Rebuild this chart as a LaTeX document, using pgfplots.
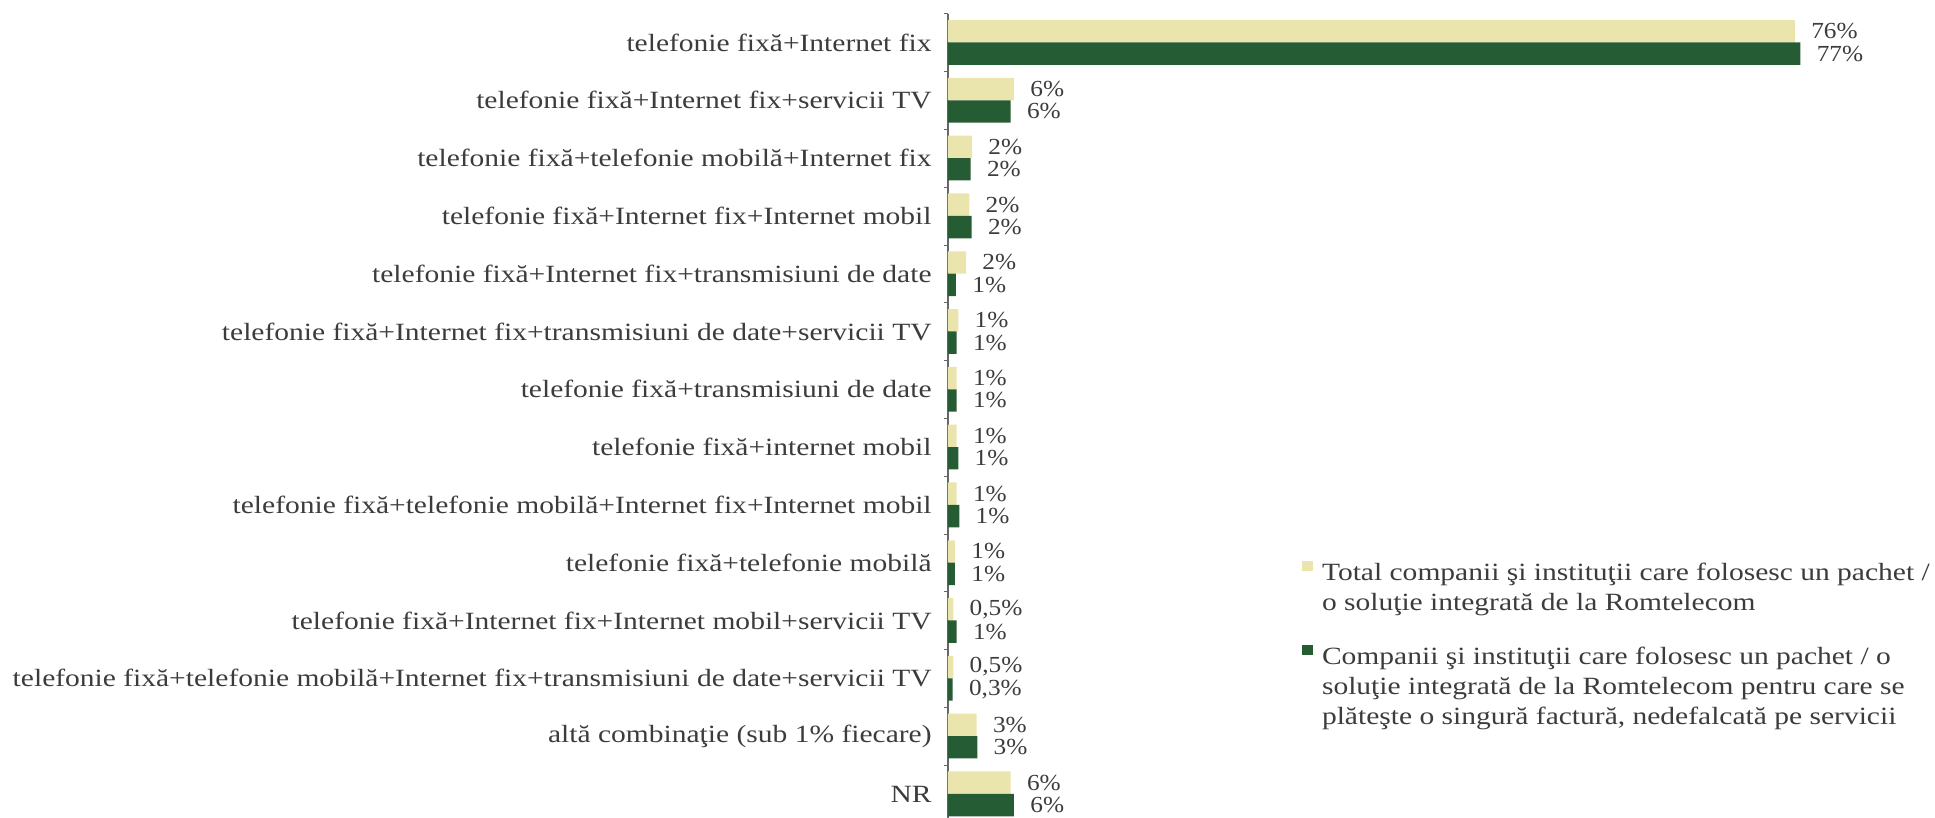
\documentclass[border=0pt]{standalone}
\usepackage{pgfplots}
\pgfplotsset{compat=1.18}
\usepackage{fontspec}
\setmainfont{Liberation Serif}[FakeStretch=1.19]
\newfontfamily\numfont{Liberation Serif}[FakeStretch=1.1]
\definecolor{lightc}{RGB}{234,229,172}
\definecolor{darkc}{RGB}{38,92,52}
\definecolor{txt}{RGB}{60,60,60}
\begin{document}
\begin{tikzpicture}
\begin{axis}[
  at={(0,0)}, anchor=south west,
  scale only axis, width=493.5pt, height=402.2pt,
  xmin=0, xmax=89.16, ymin=-0.417, ymax=13.5,
  axis y line*=left, axis x line=none,
  y axis line style={draw=black!60, line width=0.6pt},
  xbar, bar width=11.2pt,
  ytick={0,...,13},
  yticklabels={NR,
    {altă combinaţie (sub 1\% fiecare)},
    {telefonie fixă+telefonie mobilă+Internet fix+transmisiuni de date+servicii TV},
    {telefonie fixă+Internet fix+Internet mobil+servicii TV},
    {telefonie fixă+telefonie mobilă},
    {telefonie fixă+telefonie mobilă+Internet fix+Internet mobil},
    {telefonie fixă+internet mobil},
    {telefonie fixă+transmisiuni de date},
    {telefonie fixă+Internet fix+transmisiuni de date+servicii TV},
    {telefonie fixă+Internet fix+transmisiuni de date},
    {telefonie fixă+Internet fix+Internet mobil},
    {telefonie fixă+telefonie mobilă+Internet fix},
    {telefonie fixă+Internet fix+servicii TV},
    {telefonie fixă+Internet fix}},
  major tick length=0pt,
  minor ytick={0.5,1.5,...,13.5},
  minor tick length=2pt, tick align=outside,
  minor tick style={black!60},
  yticklabel style={font=\fontsize{12.4}{12.5}\selectfont, text=txt, inner sep=0pt, xshift=-8pt},
  clip=false,
  point meta=explicit symbolic,
  nodes near coords,
  nodes near coords style={font=\numfont\fontsize{11.5}{11.5}\selectfont, text=txt, anchor=west, inner sep=0pt, xshift=8pt},
  legend style={at={(0.3587,0.321)}, anchor=north west, draw=none, fill=none,
    inner sep=0pt, outer sep=0pt, row sep=30pt, column sep=4.5pt,
    font=\fontsize{12.4}{15}\selectfont, text=txt,
    nodes={inner sep=0pt}},
  legend cell align=left,
  legend image code/.code={\fill[#1,draw=none] (0pt,0.5pt) rectangle (5.5pt,5.5pt);},
]
\addplot[fill=lightc, draw=none, bar shift=5.6pt] coordinates {
  (5.66,0) [6\%]
  (2.59,1) [3\%]
  (0.48,2) [0,5\%]
  (0.48,3) [0,5\%]
  (0.63,4) [1\%]
  (0.78,5) [1\%]
  (0.78,6) [1\%]
  (0.78,7) [1\%]
  (0.93,8) [1\%]
  (1.63,9) [2\%]
  (1.93,10) [2\%]
  (2.17,11) [2\%]
  (5.96,12) [6\%]
  (76.5,13) [76\%]
};
\addlegendentry{\begin{tabular}[t]{@{}l@{}}Total companii şi instituţii care folosesc un pachet /\\o soluţie integrată de la Romtelecom\end{tabular}}
\addplot[fill=darkc, draw=none, bar shift=-5.6pt] coordinates {
  (5.96,0) [6\%]
  (2.65,1) [3\%]
  (0.42,2) [0,3\%]
  (0.78,3) [1\%]
  (0.63,4) [1\%]
  (1.02,5) [1\%]
  (0.93,6) [1\%]
  (0.78,7) [1\%]
  (0.78,8) [1\%]
  (0.72,9) [1\%]
  (2.14,10) [2\%]
  (2.05,11) [2\%]
  (5.66,12) [6\%]
  (77.0,13) [77\%]
};
\addlegendentry{\begin{tabular}[t]{@{}l@{}}Companii şi instituţii care folosesc un pachet / o\\soluţie integrată de la Romtelecom pentru care se\\plăteşte o singură factură, nedefalcată pe servicii\end{tabular}}
\end{axis}
\pgfresetboundingbox
\path[use as bounding box] (-474pt,0pt) rectangle (493.5pt,409pt);
\end{tikzpicture}
\end{document}
